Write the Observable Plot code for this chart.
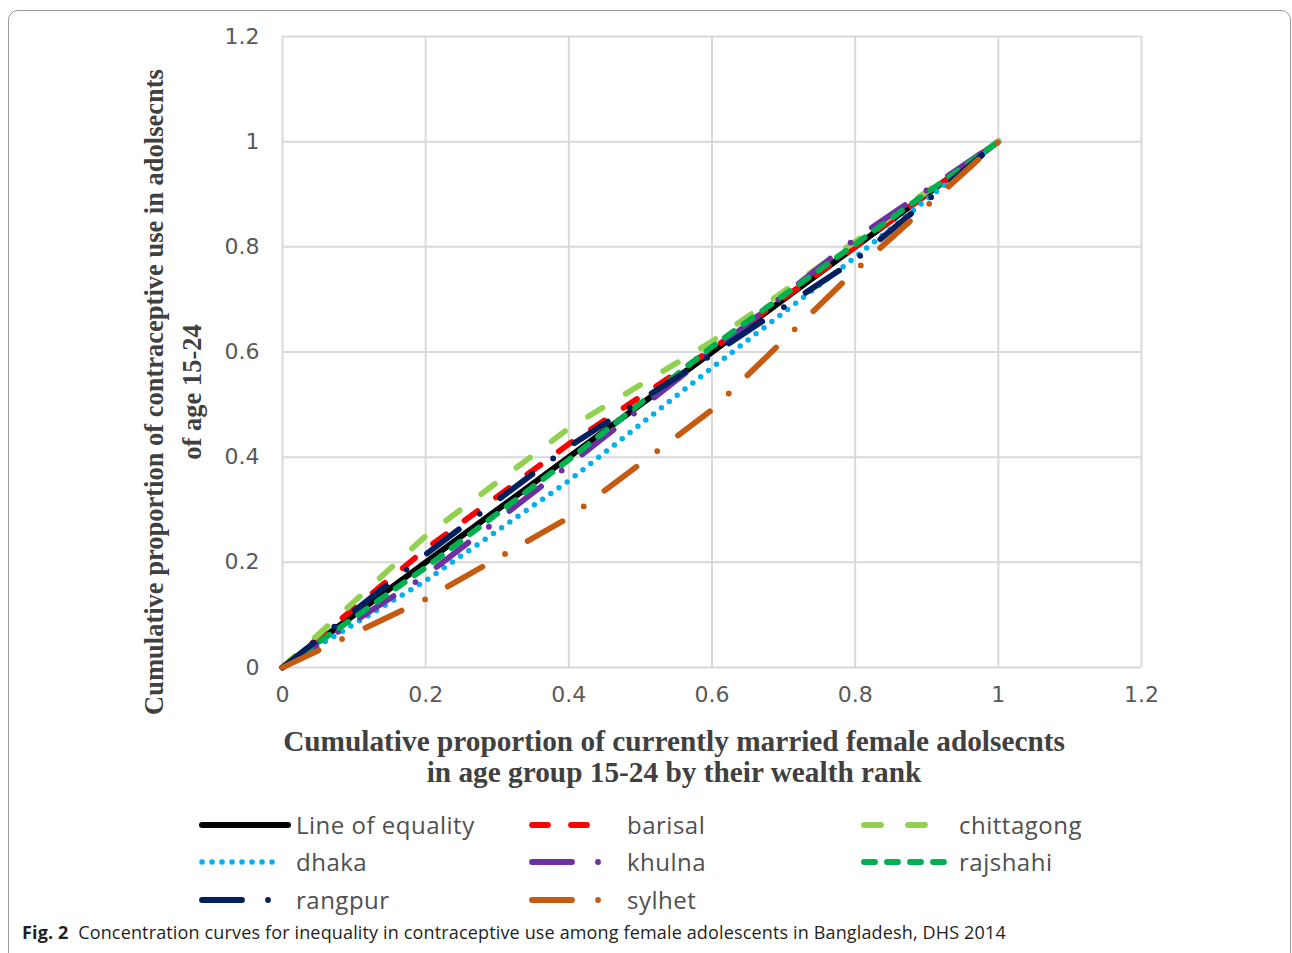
<!DOCTYPE html>
<html><head><meta charset="utf-8">
<script src="https://cdn.jsdelivr.net/npm/d3@7"></script>
<script src="https://cdn.jsdelivr.net/npm/@observablehq/plot@0.6"></script>
<style>
html,body{margin:0;padding:0;background:#fff;}
#wrap{position:relative;width:1292px;height:953px;overflow:hidden;background:#fff;}
#frame{position:absolute;left:8px;top:10px;width:1281px;height:980px;border:1px solid #9a9a9a;border-radius:10px;z-index:5;pointer-events:none;}
#chart{position:absolute;left:0;top:0;}
.leg{position:absolute;height:30px;}
.leg svg{position:absolute;left:0;top:0;overflow:visible;}
.leg span{position:absolute;top:0;line-height:30px;font-family:"Open Sans";font-size:24px;letter-spacing:0.5px;color:#505050;white-space:nowrap;}
#caption{position:absolute;left:22px;top:920px;font-family:"Open Sans";font-size:18px;letter-spacing:0.15px;color:#231f20;white-space:nowrap;}
#caption b{font-weight:700;}
</style></head>
<body>
<div id="wrap">
<div id="chart"></div>
<div id="legend"></div>
<div id="caption"><b>Fig. 2</b>&nbsp; Concentration curves for inequality in contraceptive use among female adolescents in Bangladesh, DHS 2014</div>
<div id="frame"></div>
</div>
<script>
// ---- data ----
const wealthRank = [0, 0.2, 0.4, 0.6, 0.8, 1];
const seriesNames = ["Line of equality","barisal","chittagong","dhaka","khulna","rajshahi","rangpur","sylhet"];
const equality   = [0, 0.2,   0.4,   0.6,   0.8,   1];
const barisal    = [0, 0.225, 0.425, 0.605, 0.8,   1];
const chittagong = [0, 0.25,  0.455, 0.62,  0.81,  1];
const dhaka      = [0, 0.165, 0.355, 0.57,  0.78,  1];
const khulna     = [0, 0.175, 0.385, 0.6,   0.815, 1];
const rajshahi   = [0, 0.19,  0.395, 0.61,  0.805, 1];
const rangpur    = [0, 0.215, 0.42,  0.595, 0.775, 1];
const sylhet     = [0, 0.13,  0.285, 0.49,  0.755, 1];
const tickValues = [0, 0.2, 0.4, 0.6, 0.8, 1, 1.2];
const tickLabels = ["0","0.2","0.4","0.6","0.8","1","1.2"];
const xTitle = "Cumulative proportion of currently married female adolsecnts\nin age group 15-24 by their wealth rank";
const yTitle = "Cumulative proportion of contraceptive use in adolsecnts\nof age 15-24";

// ---- styles ----
const seriesValues = [equality, barisal, chittagong, dhaka, khulna, rajshahi, rangpur, sylhet];
const styles = {
  "Line of equality": {stroke:"#000000", dash:null, w:6},
  "barisal":    {stroke:"#ff0000", dash:"16 23", w:5.8},
  "chittagong": {stroke:"#92d050", dash:"17 27", w:5.8},
  "dhaka":      {stroke:"#00b0f0", dash:"0 10", w:5.5},
  "khulna":     {stroke:"#7030a0", dash:"40 26 0 26", w:5.8},
  "rajshahi":   {stroke:"#00b050", dash:"11 12", w:5.8},
  "rangpur":    {stroke:"#002060", dash:"40 26 0 26", w:5.8},
  "sylhet":     {stroke:"#c55a11", dash:"40 26 0 26", w:5.8}
};

const fmt = d => tickLabels[tickValues.findIndex(t => Math.abs(t - d) < 1e-9)];

const lineMarks = seriesNames.map((name, k) => {
  const vals = seriesValues[k];
  const rows = wealthRank.map((x, i) => ({x, y: vals[i]}));
  const s = styles[name];
  return Plot.line(rows, {x:"x", y:"y", stroke:s.stroke, strokeWidth:s.w,
    strokeDasharray:s.dash ?? undefined, strokeLinecap:"round", strokeLinejoin:"round"});
});

const chart = Plot.plot({
  width:1292, height:790,
  marginLeft:282, marginRight:151, marginTop:36, marginBottom:123,
  x:{domain:[0,1.2]},
  y:{domain:[0,1.2]},
  style:{fontFamily:"DejaVu Sans", fontSize:"22px", color:"#595959", background:"transparent", overflow:"visible"},
  marks:[
    Plot.gridX(tickValues, {stroke:"#d9d9d9", strokeOpacity:1, strokeWidth:2}),
    Plot.gridY(tickValues, {stroke:"#d9d9d9", strokeOpacity:1, strokeWidth:2}),
    Plot.axisX(tickValues, {tickSize:0, tickPadding:19, tickFormat:fmt, label:null, fill:"#595959"}),
    Plot.axisY(tickValues, {tickSize:0, tickPadding:23, tickFormat:fmt, label:null, fill:"#595959"}),
    ...lineMarks,
    Plot.text([xTitle], {frameAnchor:"bottom", dx:-38, dy:89, textAnchor:"middle", lineAnchor:"middle", lineHeight:1.04,
      fontFamily:"Liberation Serif", fontWeight:"bold", fontSize:29.3, fill:"#404040"}),
    Plot.text([yTitle], {frameAnchor:"left", dx:-113, dy:40, rotate:-90, textAnchor:"middle", lineAnchor:"middle", lineHeight:1.43,
      fontFamily:"Liberation Serif", fontWeight:"bold", fontSize:26.5, fill:"#404040"})
  ]
});
document.getElementById("chart").appendChild(chart);

// ---- legend (below the plot) ----
const legendSlots = [
  {name:"Line of equality", sx:200, sw:90, tx:296, cy:825},
  {name:"barisal",    sx:530, sw:72, tx:627, cy:825},
  {name:"chittagong", sx:862, sw:72, tx:959, cy:825},
  {name:"dhaka",      sx:200, sw:84, tx:296, cy:862},
  {name:"khulna",     sx:530, sw:74, tx:627, cy:862},
  {name:"rajshahi",   sx:862, sw:90, tx:959, cy:862},
  {name:"rangpur",    sx:200, sw:74, tx:296, cy:900},
  {name:"sylhet",     sx:530, sw:74, tx:627, cy:900}
];
const leg = document.getElementById("legend");
legendSlots.forEach(slot => {
  const s = styles[slot.name];
  const d = document.createElement("div");
  d.className = "leg";
  d.style.left = slot.sx + "px";
  d.style.top = (slot.cy - 15) + "px";
  d.innerHTML = `<svg width="${slot.sw}" height="30"><line x1="2" x2="${slot.sw-2}" y1="15" y2="15" stroke="${s.stroke}" stroke-width="${s.w}" stroke-linecap="round" ${s.dash ? `stroke-dasharray="${s.dash}"` : ""}/></svg><span style="left:${slot.tx - slot.sx}px">${slot.name}</span>`;
  leg.appendChild(d);
});
</script>
</body></html>
